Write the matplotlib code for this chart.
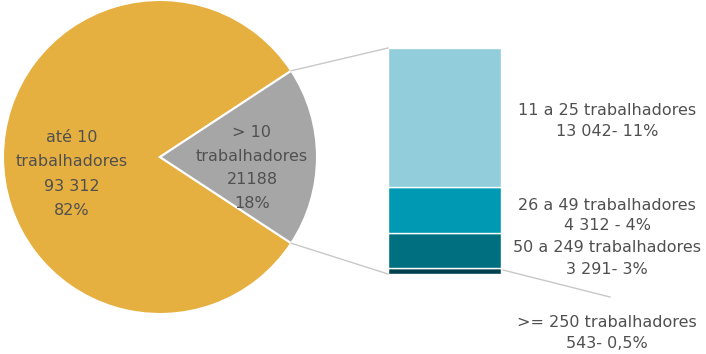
import matplotlib.pyplot as plt
import numpy as np

# Data
pie_values = [93312, 21188]
pie_labels = ["até 10\ntrabalhadores\n93 312\n82%", "> 10\ntrabalhadores\n21188\n18%"]
pie_colors = ["#E6B040", "#A6A6A6"]

# bar, bottom to top
bar_values = [543, 3291, 4312, 13042]
bar_labels = [">= 250 trabalhadores\n543- 0,5%",
              "50 a 249 trabalhadores\n3 291- 3%",
              "26 a 49 trabalhadores\n4 312 - 4%",
              "11 a 25 trabalhadores\n13 042- 11%"]
bar_colors = ["#00404F", "#006F80", "#0099B3", "#92CDDC"]

text_color = "#505050"
line_color = "#C8C8C8"
fs = 11.5

fig = plt.figure(figsize=(7.06, 3.54), dpi=100)
ax = fig.add_axes([0, 0, 1, 1])

# pie (grey wedge centred on the right)
grey_angle = 360 * pie_values[1] / sum(pie_values)
start = grey_angle / 2
cx, cy, r = 160, 197, 157
ax.pie(pie_values, colors=pie_colors, startangle=start, center=(cx, cy), radius=r,
       wedgeprops=dict(edgecolor="white", linewidth=1.5), frame=True)
ax.set_xlim(0, 706)
ax.set_ylim(0, 354)
ax.set_aspect("equal")
ax.axis("off")

ax.text(72, 180, pie_labels[0], ha="center", va="center", fontsize=fs,
        color=text_color, linespacing=1.8)
ax.text(252, 186, pie_labels[1], ha="center", va="center", fontsize=fs,
        color=text_color, linespacing=1.7)

# stacked bar
bar_x, bar_w = 444.5, 113
bar_bottom, bar_h = 80, 226
scale = bar_h / sum(bar_values)
bottom = bar_bottom
for v, c in zip(bar_values, bar_colors):
    ax.bar(bar_x, v * scale, width=bar_w, bottom=bottom, color=c,
           edgecolor="white", linewidth=1)
    bottom += v * scale

# connecting lines
a = np.radians(start)
px, py1, py2 = cx + r * np.cos(a), cy + r * np.sin(a), cy - r * np.sin(a)
ax.plot([px, bar_x - bar_w / 2], [py1, bar_bottom + bar_h], color=line_color, lw=1)
ax.plot([px, bar_x - bar_w / 2], [py2, bar_bottom], color=line_color, lw=1)
ax.plot([bar_x + bar_w / 2 + 2, 610], [84, 57], color=line_color, lw=1)

# bar labels
label_y = [21, 95.5, 138.5, 233]
for lab, y in zip(bar_labels, label_y):
    ax.text(607, y, lab, ha="center", va="center", fontsize=fs,
            color=text_color, linespacing=1.5)

fig.savefig("out.png", dpi=100)
